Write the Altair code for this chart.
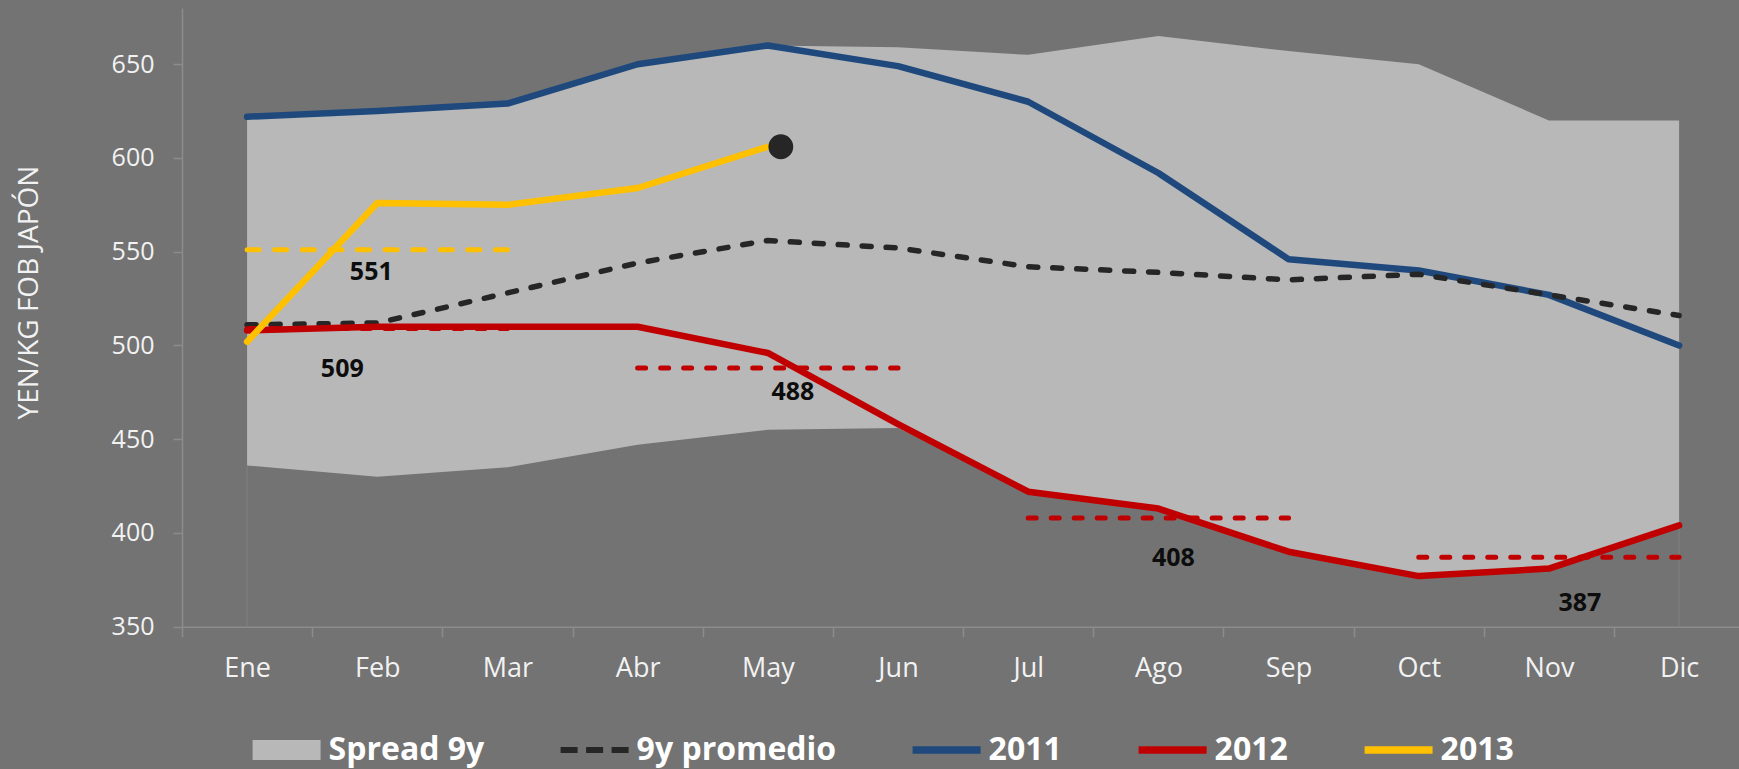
import json
import altair as alt
import pandas as pd

# ---------------- data ----------------
months = ['Ene', 'Feb', 'Mar', 'Abr', 'May', 'Jun', 'Jul', 'Ago', 'Sep', 'Oct', 'Nov', 'Dic']
spread_max = [621, 624, 628, 649, 660, 659, 655, 665, 657, 650, 620, 620]
spread_min = [436, 430, 435, 447, 455, 456, 422, 413, 390, 377, 381, 404]
prom_9y = [511, 512, 528, 544, 556, 552, 542, 539, 535, 538, 527, 516]
y2011 = [622, 625, 629, 650, 660, 649, 630, 592, 546, 540, 527, 500]
y2012 = [508, 510, 510, 510, 496, 458, 422, 413, 390, 377, 381, 404]
y2013 = [502, 576, 575, 584, 606]

avg_series = ['2013', '2012', '2012', '2012', '2012']
avg_start = [0, 0, 3, 6, 9]
avg_end = [2, 2, 5, 8, 11]
avg_value = [551, 509, 488, 408, 387]
avg_label_month = [1, 1, 4, 7, 10]

y_ticks = [350, 400, 450, 500, 550, 600, 650]
legend_names = ['Spread 9y', '9y promedio', '2011', '2012', '2013']

# ---------------- styles ----------------
BG = '#737373'
AREA = '#b8b8b8'
BLUE = '#1F497D'
RED = '#C00000'
YELLOW = '#FFC000'
DARK = '#262626'
AXIS = '#8c8c8c'
TXT = '#f2f2f2'
FONT = 'Open Sans'
label_offsets = [(-6, 22), (-35, 40), (25, 24), (15, 40), (31, 46)]

idx = list(range(len(months)))
df = pd.DataFrame({
    'idx': idx, 'smax': spread_max, 'smin': spread_min, 'prom': prom_9y,
    'y2011': y2011, 'y2012': y2012, 'base': [y_ticks[0]] * len(months),
})
df13 = pd.DataFrame({'idx': idx[:len(y2013)], 'v': y2013})
dfdot = df13.tail(1)
dfedge = df.iloc[[0, len(months) - 1]]
dfavg = pd.DataFrame({'serie': avg_series, 'start': avg_start, 'end': avg_end,
                      'v': avg_value, 'lm': avg_label_month,
                      'lab': [str(v) for v in avg_value]})
dfleg = pd.DataFrame({'serie': legend_names, 'idx': [None] * 5, 'v': [None] * 5})

xscale = alt.Scale(domain=[-0.5, 11.46], nice=False, zero=False)
yscale = alt.Scale(domain=[350, 680], nice=False, zero=False)

label_expr = "datum.value % 1 === 0 ? " + json.dumps(months) + "[datum.value] : ''"
xaxis = alt.Axis(
    values=[i - 0.5 for i in range(12)] + idx, title=None, grid=False,
    domainColor=AXIS, domainWidth=1.5, tickColor=AXIS, tickWidth=1.5, tickSize=10,
    tickOpacity={"condition": {"test": "datum.value % 1 === 0", "value": 0}, "value": 1},
    labelExpr=label_expr, labelFont=FONT, labelFontSize=27, labelColor=TXT,
    labelPadding=19, labelOverlap=False, labelFlush=False, labelBound=False,
)
yaxis = alt.Axis(
    values=y_ticks, title='YEN/KG FOB JAPÓN', grid=False,
    domainColor=AXIS, domainWidth=1.5, tickColor=AXIS, tickWidth=1.5, tickSize=9,
    labelFont=FONT, labelFontSize=25, labelColor=TXT, labelPadding=19,
    titleFont=FONT, titleFontSize=28, titleFontWeight='normal', titleColor=TXT,
    titleAngle=270, titleBaseline='alphabetic', titleAlign='center',
    titleX=-145, titleY=284,
)


def X(f):
    return alt.X(f, type='quantitative', scale=xscale, axis=xaxis)


def Y(f):
    return alt.Y(f, type='quantitative', scale=yscale, axis=yaxis)


area = alt.Chart(df).mark_area(color=AREA, opacity=1).encode(
    x=X('idx'), y=Y('smax'), y2='smin')

edges = alt.Chart(dfedge).mark_rule(color='#828282', strokeWidth=1).encode(
    x=X('idx'), y=Y('base'), y2='smin')

l2011 = alt.Chart(df).mark_line(color=BLUE, strokeWidth=6.5, strokeCap='round', strokeJoin='round').encode(
    x=X('idx'), y=Y('y2011'))
lprom = alt.Chart(df).mark_line(color=DARK, strokeWidth=5.5, strokeDash=[9, 15], strokeCap='round').encode(
    x=X('idx'), y=Y('prom'))
l2012 = alt.Chart(df).mark_line(color=RED, strokeWidth=6.5, strokeCap='round', strokeJoin='round').encode(
    x=X('idx'), y=Y('y2012'))

avg_red = alt.Chart(dfavg).transform_filter("datum.serie == '2012'").mark_rule(
    color=RED, strokeWidth=5, strokeDash=[8, 15], strokeCap='round').encode(
    x=X('start'), x2='end', y=Y('v'))
avg_yel = alt.Chart(dfavg).transform_filter("datum.serie == '2013'").mark_rule(
    color=YELLOW, strokeWidth=5, strokeDash=[12, 15.6], strokeCap='round').encode(
    x=X('start'), x2='end', y=Y('v'))

l2013 = alt.Chart(df13).mark_line(color=YELLOW, strokeWidth=6.5, strokeCap='round', strokeJoin='round').encode(
    x=X('idx'), y=Y('v'))
dot = alt.Chart(dfdot).mark_circle(color=DARK, size=616, opacity=1, xOffset=13).encode(
    x=X('idx'), y=Y('v'))

labels = []
for i, (dx, dy) in enumerate(label_offsets):
    labels.append(
        alt.Chart(dfavg.iloc[[i]]).mark_text(
            font=FONT, fontSize=25, fontWeight='bold', color='#0d0d0d',
            baseline='middle', align='center', dx=dx, dy=dy
        ).encode(x=X('lm'), y=Y('v'), text='lab:N')
    )

D = 0.088
rect = lambda x0, x1, h: f"M{x0},{-h}H{x1}V{h}H{x0}Z"
paths = [
    rect(-1, 1, 0.294),
    rect(-1, -0.5, D) + rect(-0.25, 0.25, D) + rect(0.5, 1, D),
    rect(-1, 1, 0.11),
    rect(-1, 1, 0.11),
    rect(-1, 1, 0.11),
]
leg = alt.Legend(
    title=None, orient='none', legendX=70.6, legendY=708, direction='horizontal',
    columns=5, columnPadding=76, padding=0, symbolSize=4624, symbolStrokeWidth=0,
    symbolOpacity=1, labelFont=FONT, labelFontSize=32, labelFontWeight='bold',
    labelColor='#ffffff', labelOffset=8, labelLimit=500,
)
legend_layer = alt.Chart(dfleg).mark_point(filled=True, opacity=1).encode(
    x=X('idx'), y=Y('v'),
    color=alt.Color('serie:N', scale=alt.Scale(domain=legend_names,
                    range=[AREA, DARK, BLUE, RED, YELLOW]), legend=leg),
    shape=alt.Shape('serie:N', scale=alt.Scale(domain=legend_names, range=paths), legend=leg),
)

chart = alt.layer(
    area, edges, l2011, lprom, l2012, avg_red, avg_yel, l2013, dot, *labels, legend_layer
).properties(
    width=1557, height=618.7, background=BG,
    padding={'left': 182, 'top': 8, 'right': 0, 'bottom': 142.3},
    autosize=alt.AutoSizeParams(type='none'),
).configure_view(stroke=None)

chart.save('out.html', embed_options={'renderer': 'svg', 'actions': False})
